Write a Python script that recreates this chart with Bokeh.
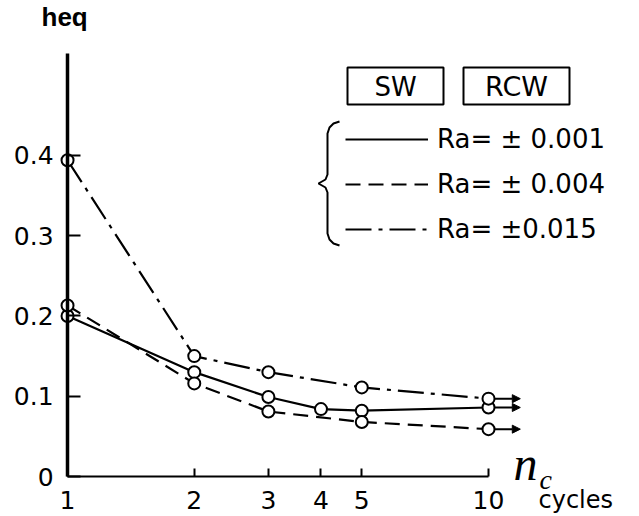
from bokeh.plotting import figure
from bokeh.models import (Range1d, FixedTicker, Label, Legend, LegendItem, Arrow,
                          NormalHead, BoxAnnotation, PolyAnnotation)
from bokeh.embed import file_html
from bokeh.resources import INLINE

# ---- data ----
nc_001 = [1, 2, 3, 4, 5, 10]
h_001 = [0.200, 0.130, 0.099, 0.084, 0.082, 0.086]

nc_004 = [1, 2, 3, 5, 10]
h_004 = [0.213, 0.116, 0.081, 0.068, 0.059]

nc_015 = [1, 2, 3, 5, 10]
h_015 = [0.394, 0.150, 0.130, 0.111, 0.097]

x_ticks = [1, 2, 3, 4, 5, 10]
x_tick_labels = ["1", "2", "3", "4", "5", "10"]
y_ticks = [0, 0.1, 0.2, 0.3, 0.4]
y_tick_labels = ["0", "0.1", "0.2", "0.3", "0.4"]

labels = ["Ra= \u00b1 0.001", "Ra= \u00b1 0.004", "Ra= \u00b10.015"]
dashes = ["solid", "15 8", "26 7 4 7"]

FONT = "DejaVu Sans"

p = figure(width=639, height=516, x_axis_type="log",
           x_range=Range1d(0.693, 22.84), y_range=Range1d(-0.0498, 0.593),
           output_backend="svg", toolbar_location=None,
           min_border_left=0, min_border_right=0, min_border_top=0,
           min_border_bottom=0)
p.outline_line_color = None
p.xgrid.visible = False
p.ygrid.visible = False
p.background_fill_color = "white"
p.border_fill_color = "white"

# axes
xa = p.xaxis[0]
xa.fixed_location = 0
xa.ticker = FixedTicker(ticks=x_ticks)
xa.major_label_overrides = {t: l for t, l in zip(x_ticks, x_tick_labels)}
xa.bounds = (x_ticks[0], x_ticks[-1])
xa.axis_line_width = 2
xa.axis_line_color = "black"
xa.major_tick_in = 8
xa.major_tick_out = 0
xa.major_tick_line_width = 2
xa.minor_tick_line_color = None
xa.major_label_text_font = FONT
xa.major_label_text_font_size = "25px"
xa.major_label_text_color = "black"
xa.major_label_standoff = 14

ya = p.yaxis[0]
ya.fixed_location = 1
ya.ticker = FixedTicker(ticks=y_ticks)
ya.major_label_overrides = {t: l for t, l in zip(y_ticks, y_tick_labels)}
ya.bounds = (0, 0.527)
ya.axis_line_width = 3.5
ya.axis_line_color = "black"
ya.major_tick_in = 13
ya.major_tick_out = 0
ya.major_tick_line_width = 2
ya.minor_tick_line_color = None
ya.major_label_text_font = FONT
ya.major_label_text_font_size = "25px"
ya.major_label_text_color = "black"
ya.major_label_standoff = 14

series = [(nc_001, h_001), (nc_004, h_004), (nc_015, h_015)]
items = []
for (xs, ys), lab, dash in zip(series, labels, dashes):
    r = p.line(xs, ys, line_color="black", line_width=2.2, line_dash=dash)
    items.append(LegendItem(label=lab, renderers=[r]))
    arr = Arrow(end=NormalHead(size=8, fill_color="black", line_color="black", line_width=1),
                x_start=xs[-1], y_start=ys[-1], x_end=xs[-1] * 1.19, y_end=ys[-1],
                line_color="black", line_width=2, level="underlay")
    p.add_layout(arr)
    p.scatter(xs, ys, marker="circle", size=12, fill_color="white",
              line_color="black", line_width=2)

legend = Legend(items=items, location=(345, 272), orientation="vertical",
                glyph_width=83, glyph_height=30, label_height=30, spacing=15,
                label_standoff=9, padding=0, margin=0,
                border_line_color=None, background_fill_alpha=0,
                label_text_font=FONT, label_text_font_size="26px",
                label_text_color="black")
p.add_layout(legend, "center")

# boxes SW / RCW (screen units relative to frame)
for l, r in [(347, 443), (463, 569)]:
    p.add_layout(BoxAnnotation(left=l, right=r, bottom=412, top=449,
                               left_units="screen", right_units="screen",
                               top_units="screen", bottom_units="screen",
                               fill_alpha=0, line_color="black", line_width=2,
                               line_alpha=1))
p.add_layout(Label(x=395, y=430, x_units="screen", y_units="screen", text="SW",
                   text_align="center", text_baseline="middle",
                   text_font=FONT, text_font_size="26px", text_color="black"))
p.add_layout(Label(x=516, y=430, x_units="screen", y_units="screen", text="RCW",
                   text_align="center", text_baseline="middle",
                   text_font=FONT, text_font_size="27px", text_color="black"))

# brace
bx = [339, 333, 329, 327, 327, 325, 318, 325, 327, 327, 329, 333, 339]
by = [121, 123, 127, 133, 174, 179, 183, 187, 192, 233, 239, 243, 245]
px = list(bx)
py = [516 - v for v in by]
px = px + px[-2:0:-1]
py = py + py[-2:0:-1]
p.add_layout(PolyAnnotation(xs=px, ys=py, xs_units="screen", ys_units="screen",
                            fill_alpha=0, line_color="black", line_alpha=1,
                            line_width=2))

# y axis title
p.add_layout(Label(x=41, y=485, x_units="screen", y_units="screen", text="heq",
                   text_font="Liberation Sans", text_font_style="bold",
                   text_font_size="26px", text_color="black"))
# x axis title
p.add_layout(Label(x=513, y=27, x_units="screen", y_units="screen", text="n",
                   text_font="Liberation Serif", text_font_style="italic",
                   text_font_size="48px", text_color="black"))
p.add_layout(Label(x=539, y=22, x_units="screen", y_units="screen", text="c",
                   text_font="Liberation Serif", text_font_style="italic",
                   text_font_size="28px", text_color="black"))
p.add_layout(Label(x=538, y=3, x_units="screen", y_units="screen", text="cycles",
                   text_font=FONT, text_font_size="24px", text_color="black"))

open("out.html", "w").write(file_html(p, INLINE))
